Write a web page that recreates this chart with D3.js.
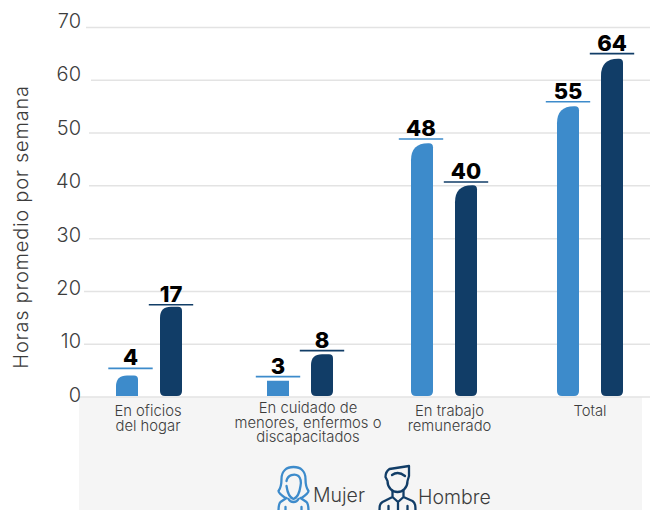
<!DOCTYPE html>
<html>
<head>
<meta charset="utf-8">
<script src="https://cdn.jsdelivr.net/npm/d3@7/dist/d3.min.js"></script>
<style>
html,body{margin:0;padding:0;background:#fff;}
svg{display:block;}
text{font-family:"Inter","Open Sans",sans-serif;}
</style>
</head>
<body>
<svg id="chart" width="650" height="510"></svg>
<script>
// Weekly hours by activity and sex
const categories = ["hogar", "cuidado", "trabajo", "total"];
const categoryLines = [
  ["En oficios", "del hogar"],
  ["En cuidado de", "menores, enfermos o", "discapacitados"],
  ["En trabajo", "remunerado"],
  ["Total"]
];
const mujerValues = [4, 3, 48, 55];
const hombreValues = [17, 8, 40, 64];
const yTicks = [0, 10, 20, 30, 40, 50, 60, 70];
const yTitle = "Horas promedio por semana";
const legendLabels = ["Mujer", "Hombre"];

const blue = "#3d8bcb", navy = "#113d67", ink = "#3c3c3c";
const svg = d3.select("#chart");

const y = d3.scaleLinear().domain([0, 70]).range([396.5, 27]);
const tickLabelY = d3.scaleLinear().domain([0, 70]).range([395, 21]);
const x = d3.scaleOrdinal().domain(categories).range([149, 300, 444, 590]);
const labelX = d3.scaleOrdinal().domain(categories).range([148, 308, 449.5, 590]);
const barW = 22;

// Shaded panel behind the category labels and legend
svg.append("rect").attr("x", 79).attr("y", 397).attr("width", 563).attr("height", 113).attr("fill", "#f5f5f5");

// Horizontal grid and value axis; each rule starts just clear of its label
const axisX = 81;
const gridStart = d3.scaleOrdinal().domain(yTicks).range([79, 84, 84, 89, 89, 89, 91, 86]);
const yAxis = d3.axisLeft(y).tickValues(yTicks).tickSize(0).tickPadding(0);
const gAxis = svg.append("g").attr("transform", `translate(${axisX},0)`).call(yAxis);
gAxis.select(".domain").remove();
gAxis.selectAll("line")
  .attr("x1", d => gridStart(d) - axisX).attr("x2", 650 - axisX)
  .attr("stroke", "#e3e3e3").attr("stroke-width", 1.5);
gAxis.selectAll("text")
  .attr("font-size", 20).attr("font-weight", 300).attr("fill", ink)
  .attr("y", d => tickLabelY(d) - y(d));

svg.append("text")
  .attr("transform", "translate(28,227) rotate(-90)")
  .attr("text-anchor", "middle")
  .attr("font-size", 20).attr("font-weight", 300).attr("fill", ink)
  .attr("letter-spacing", 0.75)
  .text(yTitle);

// Bar with a large top-left corner and small remaining corners
function barPath(cx, value) {
  const x0 = cx, x1 = cx + barW, top = y(value), bottom = y(0) - 0.5;
  const rl = value < 4 ? 0 : value < 20 ? 11 : 17;
  const rr = value < 4 ? 0 : 4;
  const rb = value > 5 ? 5 : 0;
  const p = d3.path();
  p.moveTo(x0 + rb, bottom);
  p.quadraticCurveTo(x0, bottom, x0, bottom - rb);
  p.lineTo(x0, top + rl);
  p.quadraticCurveTo(x0, top, x0 + rl, top);
  p.lineTo(x1 - rr, top);
  p.quadraticCurveTo(x1, top, x1, top + rr);
  p.lineTo(x1, bottom - rb);
  p.quadraticCurveTo(x1, bottom, x1 - rb, bottom);
  p.closePath();
  return p.toString();
}

// Per-bar spacing of the rule above the bar, and its sideways nudge
const series = [
  { values: mujerValues, color: blue, offset: -33, gaps: [7, 4, 4.2, 4.5], nudge: [3.5, 0, -1, 0] },
  { values: hombreValues, color: navy, offset: 11, gaps: [2, 3.6, 3.4, 5], nudge: [0, 0, 0, 0] }
];

series.forEach(s => {
  const g = svg.append("g");
  const rows = categories.map((c, i) => ({
    c, v: s.values[i],
    cx: x(c) + s.offset + barW / 2 + s.nudge[i],
    ruleY: y(s.values[i]) - s.gaps[i]
  }));
  g.selectAll("path").data(rows).join("path")
    .attr("d", d => barPath(x(d.c) + s.offset, d.v))
    .attr("fill", s.color);
  // Rule above each bar, with the value sitting on it
  g.selectAll("line").data(rows).join("line")
    .attr("x1", d => d.cx - 22.2).attr("x2", d => d.cx + 22.2)
    .attr("y1", d => d.ruleY).attr("y2", d => d.ruleY)
    .attr("stroke", s.color).attr("stroke-width", 1.6);
  g.selectAll("text").data(rows).join("text")
    .attr("x", d => d.cx).attr("y", d => d.ruleY - 3)
    .attr("text-anchor", "middle")
    .attr("font-size", 22).attr("font-weight", 800).attr("fill", "#000")
    .text(d => d.v);
});

// Category labels
const cat = svg.append("g").selectAll("text").data(categories).join("text")
  .attr("text-anchor", "middle").attr("font-size", 14.8).attr("font-weight", 300).attr("fill", ink)
  .attr("y", (d, i) => i === 1 ? 413 : 416);
cat.selectAll("tspan").data((d, i) => categoryLines[i]).join("tspan")
  .attr("x", function () { return labelX(d3.select(this.parentNode).datum()); })
  .attr("dy", (d, i) => i ? 14.6 : 0)
  .text(d => d);

// Legend icons, outlined figures running off the lower page edge
function outline(g, color) {
  return g.attr("fill", "none").attr("stroke", color).attr("stroke-width", 2.3)
    .attr("stroke-linecap", "round").attr("stroke-linejoin", "round");
}
function womanIcon(g) {
  outline(g, blue);
  g.append("path").attr("d", "M-8,20 C-11,18 -15,15 -15,13 C-12,9 -12,4 -12,1 C-12,-7 -7,-11 0,-11 C7,-11 12,-7 12,1 C12,4 12,9 15,13 C15,15 11,18 8,20");
  g.append("path").attr("d", "M-7,3 C-6,-3 1,-5 5,-2 C7,0 8,3 7,8 C6,15 3,20 0,21 C-3,20 -6,15 -7,8");
  g.append("path").attr("d", "M-7,20 L-13,24 C-15,26 -15,28 -15,33 M7,20 L13,24 C15,26 15,28 15,33 M-8,29 V34 M8,29 V34 M-5,21 C-3,25 3,25 5,21");
}
function manIcon(g) {
  outline(g, navy);
  g.append("path").attr("d", "M-8,-9 C-11,-7 -12,-4 -12,-1 L-10,3 C-10,10 -5,14 0,14 C5,14 10,10 10,3 L11.5,-2 L11.5,-12 Z");
  g.append("path").attr("d", "M-5.5,-3 C-2,-5.5 3,-5.5 7.5,-2");
  g.append("path").attr("d", "M-5,13 V19 L-15,24 C-18,26 -18,28 -18,34 M6,13 V19 L15,23 C18,25 18,28 18,34 M-5,19 L0.5,24 L6,19 M0.5,24 V34 M-9,28 V34 M10,28 V34");
}
const legend = svg.append("g");
womanIcon(legend.append("g").attr("transform", "translate(293.5,478)"));
manIcon(legend.append("g").attr("transform", "translate(397.5,478)"));
legend.selectAll("text").data(legendLabels).join("text")
  .attr("x", (d, i) => [313, 418][i]).attr("y", (d, i) => [502, 503.5][i])
  .attr("font-size", 19.5).attr("font-weight", 300).attr("fill", ink)
  .text(d => d);
</script>
</body>
</html>
